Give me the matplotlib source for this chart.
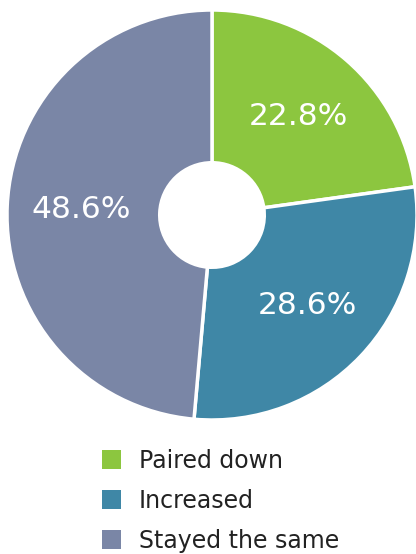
import matplotlib
matplotlib.use("Agg")
import matplotlib.pyplot as plt

categories = ["Paired down", "Increased", "Stayed the same"]
values = [22.8, 28.6, 48.6]
colors = ["#8CC63F", "#3F87A6", "#7A86A6"]

plt.rcParams['font.family'] = ['DejaVu Sans']

fig = plt.figure(figsize=(4.16, 5.54), dpi=100)
ax = fig.add_axes([7/416, 134/554, 410/416, 410/554])

wedges, texts, autotexts = ax.pie(
    values, colors=colors, startangle=90, counterclock=False,
    autopct=lambda p: f"{p:.1f}%", pctdistance=0.64, radius=1.0,
    wedgeprops=dict(width=0.745, edgecolor="white", linewidth=2.5),
    textprops=dict(color="white", fontsize=22.5))
ax.set_xlim(-1, 1)
ax.set_ylim(-1, 1)
ax.set_aspect("equal")
ax.axis("off")

leg = fig.legend(wedges, categories, loc="upper left",
                 bbox_to_anchor=(90/416, 1 - 437/554), frameon=False,
                 fontsize=17, handlelength=0.82, handleheight=0.82,
                 handletextpad=0.74, labelspacing=0.675, borderpad=0,
                 labelcolor="#222222")
for h in leg.legend_handles:
    h.set_edgecolor("none")

fig.savefig("out.png", dpi=100, facecolor="white")
